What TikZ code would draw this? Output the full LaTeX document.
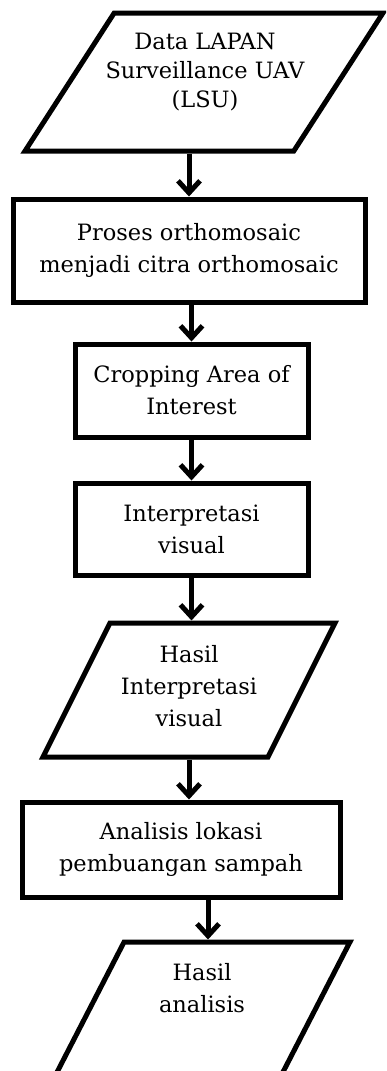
\documentclass[tikz,border=0pt]{standalone}
\usepackage{fontspec}
\setmainfont{DejaVu Serif}
\usetikzlibrary{shapes.geometric,arrows.meta}
\tikzset{
  procbox/.style={draw,line width=5pt,rectangle,align=center,inner sep=0pt,font=\fontsize{22.5}{32}\selectfont},
  datashape/.style={draw,line width=5pt,trapezium,trapezium stretches=true,inner sep=2pt},
  datatext/.style={align=center,font=\fontsize{22.5}{32}\selectfont},
  flow/.style={line width=5pt,-{Straight Barb[length=12pt,width=22pt]}}
}
\begin{document}
\begin{tikzpicture}[x=1pt,y=-1pt]
  \useasboundingbox (0,0) rectangle (386,1071);
  \clip (0,0) rectangle (386,1071);
  %Input data
  \node[datashape,trapezium left angle=63.6,trapezium right angle=116.4,minimum width=358pt,minimum height=138pt] (lsu) at (204,82) {};
  \node[datatext,font=\fontsize{22.5}{29}\selectfont] (lsutext) at (205,72) {Data LAPAN\\Surveillance UAV\\(LSU)};
  %Processing steps
  \node[procbox,minimum width=352pt,minimum height=103pt] (proc) at (189,250.5) {Proses orthomosaic\\menjadi citra orthomosaic};
  \node[procbox,minimum width=233pt,minimum height=93pt] (crop) at (191.5,390.5) {Cropping Area of\\Interest};
  \node[procbox,minimum width=233pt,minimum height=92pt] (interp) at (191.5,529) {Interpretasi\\visual};
  %Interpretation result
  \node[datashape,trapezium left angle=67,trapezium right angle=113,minimum width=292pt,minimum height=134pt] (hasil1) at (189,690) {};
  \node[datatext] (hasil1text) at (189,686) {Hasil\\Interpretasi\\visual};
  \node[procbox,minimum width=318pt,minimum height=95pt] (ana) at (181,849.5) {Analisis lokasi\\pembuangan sampah};
  %Final result
  \node[datashape,trapezium left angle=65.8,trapezium right angle=114.2,minimum width=296pt,minimum height=136pt] (hasil2) at (202,1010) {};
  \node[datatext] (hasil2text) at (202,988) {Hasil\\analisis};
  %Arrows
  \draw[flow] (lsu.south -| proc.north) -- (proc.north);
  \draw[flow] (proc.south -| crop.north) -- (crop.north);
  \draw[flow] (crop.south) -- (interp.north);
  \draw[flow] (interp.south) -- (interp.south |- hasil1.north);
  \draw[flow] (hasil1.south) -- (hasil1.south |- ana.north);
  \draw[flow] ([xshift=6pt]hasil2.north |- ana.south) -- ([xshift=6pt]hasil2.north);
\end{tikzpicture}
\end{document}
